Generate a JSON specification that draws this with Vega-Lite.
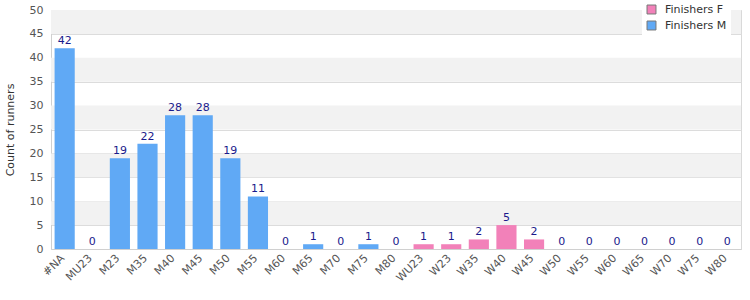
{
  "$schema": "https://vega.github.io/schema/vega-lite/v6.json",
  "autosize": {"type": "none"},
  "width": 690,
  "height": 239,
  "padding": {"left": 51, "top": 10, "right": 9, "bottom": 51},
  "background": "white",
  "config": {
    "font": "DejaVu Sans",
    "view": {"stroke": "#d9d9d9", "strokeWidth": 1}
  },
  "datasets": {
    "bands": [
      {"lo": 5, "hi": 10}, {"lo": 15, "hi": 20}, {"lo": 25, "hi": 30}, {"lo": 35, "hi": 40}, {"lo": 45, "hi": 50}
    ],
    "runners": [
      {"cat": "#NA", "count": 42, "series": "Finishers M"},
      {"cat": "MU23", "count": 0, "series": "Finishers M"},
      {"cat": "M23", "count": 19, "series": "Finishers M"},
      {"cat": "M35", "count": 22, "series": "Finishers M"},
      {"cat": "M40", "count": 28, "series": "Finishers M"},
      {"cat": "M45", "count": 28, "series": "Finishers M"},
      {"cat": "M50", "count": 19, "series": "Finishers M"},
      {"cat": "M55", "count": 11, "series": "Finishers M"},
      {"cat": "M60", "count": 0, "series": "Finishers M"},
      {"cat": "M65", "count": 1, "series": "Finishers M"},
      {"cat": "M70", "count": 0, "series": "Finishers M"},
      {"cat": "M75", "count": 1, "series": "Finishers M"},
      {"cat": "M80", "count": 0, "series": "Finishers M"},
      {"cat": "WU23", "count": 1, "series": "Finishers F"},
      {"cat": "W23", "count": 1, "series": "Finishers F"},
      {"cat": "W35", "count": 2, "series": "Finishers F"},
      {"cat": "W40", "count": 5, "series": "Finishers F"},
      {"cat": "W45", "count": 2, "series": "Finishers F"},
      {"cat": "W50", "count": 0, "series": "Finishers F"},
      {"cat": "W55", "count": 0, "series": "Finishers F"},
      {"cat": "W60", "count": 0, "series": "Finishers F"},
      {"cat": "W65", "count": 0, "series": "Finishers F"},
      {"cat": "W70", "count": 0, "series": "Finishers F"},
      {"cat": "W75", "count": 0, "series": "Finishers F"},
      {"cat": "W80", "count": 0, "series": "Finishers F"}
    ]
  },
  "layer": [
    {
      "data": {"name": "bands"},
      "mark": {"type": "rect", "color": "#f2f2f2"},
      "encoding": {
        "y": {
          "field": "lo", "type": "quantitative", "scale": {"domain": [0, 50]},
          "axis": {
            "title": "Count of runners", "titleFontSize": 11, "titleFontWeight": "normal", "titleColor": "#333",
            "titlePadding": 14, "tickCount": 10, "labelOverlap": false,
            "labelColor": "#555", "labelFontSize": 11, "ticks": false, "labelPadding": 8,
            "gridColor": "#dcdcdc", "domainColor": "#d0d0d0"
          }
        },
        "y2": {"field": "hi"}
      }
    },
    {
      "data": {"name": "runners"},
      "layer": [
        {
          "mark": {"type": "bar"},
          "encoding": {
            "x": {
              "field": "cat", "type": "nominal", "sort": null,
              "scale": {"paddingInner": 0.27, "paddingOuter": 0.13},
              "axis": {
                "title": null, "labelAngle": -45, "labelColor": "#555", "labelFontSize": 11,
                "ticks": false, "domainColor": "#d0d0d0", "labelPadding": 3, "labelOffset": -6
              }
            },
            "y": {
              "field": "count", "type": "quantitative",
              "scale": {"domain": [0, 50]},
              "axis": {
                "title": "Count of runners", "titleFontSize": 11, "titleFontWeight": "normal", "titleColor": "#333",
                "titlePadding": 14, "tickCount": 10, "labelOverlap": false,
                "labelColor": "#555", "labelFontSize": 11, "ticks": false, "labelPadding": 8,
                "gridColor": "#dcdcdc", "domainColor": "#d0d0d0"
              }
            },
            "color": {
              "field": "series", "type": "nominal",
              "scale": {"domain": ["Finishers F", "Finishers M"], "range": ["#f281b9", "#60a9f5"]},
              "legend": {
                "title": null, "orient": "none", "legendX": 591, "legendY": -10,
                "symbolType": "square", "symbolSize": 80, "symbolStrokeColor": "#777", "symbolStrokeWidth": 1,
                "labelFontSize": 11, "labelColor": "#333", "fillColor": "white", "padding": 4, "rowPadding": 3,
                "labelOffset": 8
              }
            }
          }
        },
        {
          "mark": {"type": "text", "dy": -7, "color": "#1a1a8c", "fontSize": 11},
          "encoding": {
            "x": {"field": "cat", "type": "nominal", "sort": null},
            "y": {"field": "count", "type": "quantitative"},
            "text": {"field": "count", "type": "quantitative"}
          }
        }
      ]
    }
  ]
}
